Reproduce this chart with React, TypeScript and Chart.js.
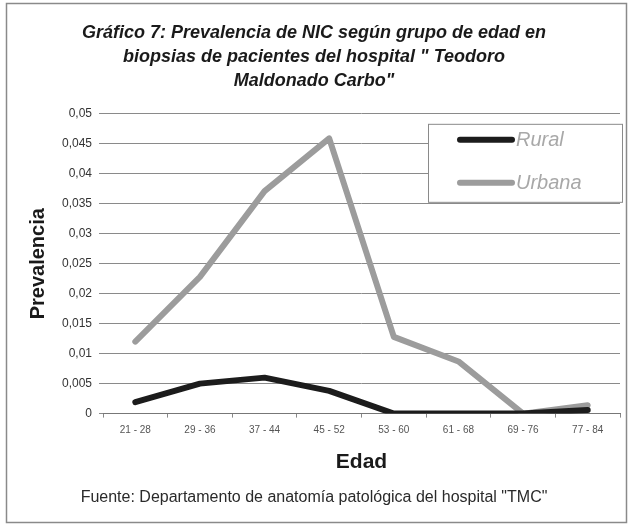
import React, { useEffect, useRef } from "react";
import { Chart, registerables } from "chart.js";

Chart.register(...registerables);

const categories = ["21 - 28", "29 - 36", "37 - 44", "45 - 52", "53 - 60", "61 - 68", "69 - 76", "77 - 84"];
const rural = [0.0019, 0.005, 0.006, 0.0038, 0, 0, 0, 0.0006];
const urbana = [0.012, 0.0228, 0.0371, 0.0459, 0.0128, 0.0087, 0, 0.0014];
const seriesNames = ["Rural", "Urbana"];
const seriesColors = ["#1c1c1c", "#9c9c9c"];
const titleLines = [
  "Gráfico 7: Prevalencia de NIC según grupo de edad en",
  "biopsias de pacientes del hospital \" Teodoro",
  "Maldonado Carbo\"",
];
const xTitle = "Edad";
const yTitle = "Prevalencia";
const sourceText = "Fuente: Departamento de anatomía patológica del hospital \"TMC\"";

const FONT = "'Liberation Sans', Arial, sans-serif";

const framePlugin = {
  id: "frame",
  beforeDraw(chart: any) {
    const ctx = chart.ctx;
    ctx.save();
    ctx.fillStyle = "#ffffff";
    ctx.fillRect(0, 0, chart.width, chart.height);
    ctx.strokeStyle = "#8a8a8a";
    ctx.lineWidth = 1.5;
    ctx.strokeRect(6.5, 3.5, chart.width - 12, chart.height - 8);
    ctx.restore();
  },
};

const legendPlugin = {
  id: "boxLegend",
  afterDraw(chart: any) {
    const ctx = chart.ctx;
    const area = chart.chartArea;
    const x0 = area.right - 192;
    const y0 = area.top + 10;
    const w = 194;
    const h = 78;
    ctx.save();
    ctx.fillStyle = "#ffffff";
    ctx.fillRect(x0, y0, w, h);
    ctx.strokeStyle = "#8a8a8a";
    ctx.lineWidth = 1;
    ctx.strokeRect(x0 + 0.5, y0 + 0.5, w, h);
    chart.data.datasets.forEach((ds: any, i: number) => {
      const y = y0 + 16 + i * 43;
      ctx.strokeStyle = ds.borderColor;
      ctx.lineWidth = 6;
      ctx.lineCap = "round";
      ctx.beginPath();
      ctx.moveTo(x0 + 32, y);
      ctx.lineTo(x0 + 84, y);
      ctx.stroke();
      ctx.fillStyle = "#a8a8a8";
      ctx.font = "italic 20px " + FONT;
      ctx.textBaseline = "middle";
      ctx.textAlign = "left";
      ctx.fillText(ds.label, x0 + 88, y + 1);
    });
    ctx.restore();
  },
};

function fmt(v: number) {
  const r = Math.round(v * 1000) / 1000;
  return String(r).replace(".", ",");
}

export default function App() {
  const ref = useRef<HTMLCanvasElement | null>(null);
  useEffect(() => {
    document.body.style.margin = "0";
    const canvas = ref.current;
    if (!canvas) return;
    const chart = new Chart(canvas, {
      type: "line",
      data: {
        labels: categories,
        datasets: [
          {
            label: seriesNames[0],
            data: rural,
            borderColor: seriesColors[0],
            backgroundColor: seriesColors[0],
            borderWidth: 6,
            pointRadius: 0,
            tension: 0,
            borderCapStyle: "round",
            borderJoinStyle: "round",
          },
          {
            label: seriesNames[1],
            data: urbana,
            borderColor: seriesColors[1],
            backgroundColor: seriesColors[1],
            borderWidth: 6,
            pointRadius: 0,
            tension: 0,
            borderCapStyle: "round",
            borderJoinStyle: "round",
          },
        ],
      },
      options: {
        responsive: false,
        animation: false,
        layout: { padding: { left: 8, right: 12, top: 0, bottom: 10 } },
        plugins: {
          legend: { display: false },
          tooltip: { enabled: false },
          title: {
            display: true,
            text: titleLines,
            color: "#1a1a1a",
            font: { family: FONT, size: 18, weight: "bold", style: "italic", lineHeight: 1.33 },
            padding: { top: 21, bottom: 21 },
          },
          subtitle: {
            display: true,
            position: "bottom",
            text: sourceText,
            color: "#2a2a2a",
            font: { family: FONT, size: 16, lineHeight: 1.2 },
            padding: { top: 8, bottom: 10 },
          },
        },
        scales: {
          x: {
            offset: true,
            grid: {
              display: true,
              offset: true,
              drawOnChartArea: false,
              drawTicks: true,
              tickLength: 4,
              color: "#888",
            },
            border: { display: true, color: "#777", width: 1 },
            ticks: { color: "#555", font: { family: FONT, size: 10 }, padding: 7, maxRotation: 0 },
            title: {
              display: true,
              text: xTitle,
              color: "#1a1a1a",
              font: { family: FONT, size: 21, weight: "bold" },
              padding: { top: 6, bottom: 5 },
            },
          },
          y: {
            min: 0,
            max: 0.05,
            afterFit(scale: any) {
              scale.width = 95;
            },
            grid: { color: "#8a8a8a", lineWidth: 1, drawTicks: true, tickLength: 4 },
            border: { display: false },
            ticks: {
              stepSize: 0.005,
              color: "#333",
              font: { family: FONT, size: 12 },
              padding: 7,
              callback: (v: any) => fmt(Number(v)),
            },
            title: {
              display: true,
              text: yTitle,
              color: "#1a1a1a",
              font: { family: FONT, size: 20, weight: "bold" },
              padding: { top: 18, bottom: 4 },
            },
          },
        },
      },
      plugins: [framePlugin, legendPlugin],
    } as any);
    return () => chart.destroy();
  }, []);
  return <canvas ref={ref} width={632} height={527} style={{ display: "block" }} />;
}
